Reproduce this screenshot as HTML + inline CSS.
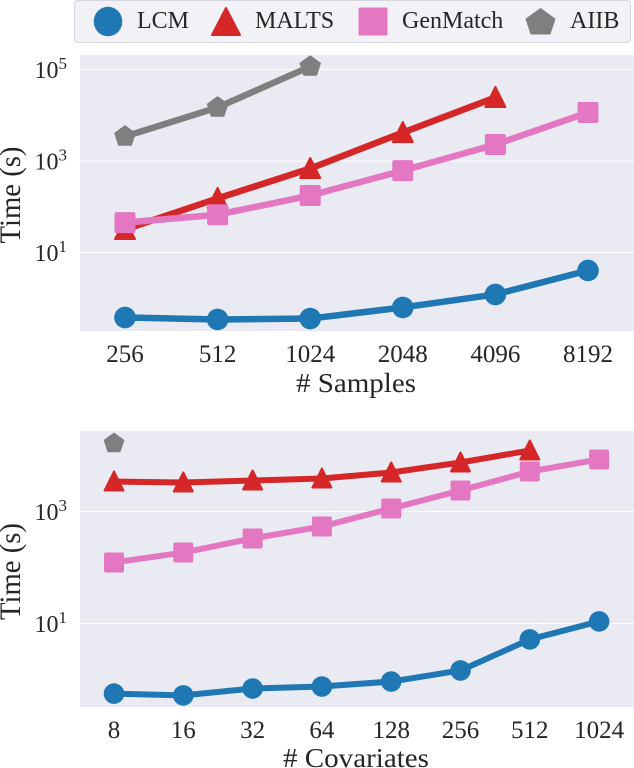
<!DOCTYPE html>
<html>
<head>
<meta charset="utf-8">
<title>Runtime comparison chart</title>
<style>
html,body{margin:0;padding:0;background:#fff;}
svg{display:block;}
text{font-family:"Liberation Serif",serif;fill:#262626;}
</style>
</head>
<body>
<svg id="chart" xmlns="http://www.w3.org/2000/svg" width="634" height="768" viewBox="0 0 634 768">
<g id="plots"></g>
<g id="legend">
<rect x="74.5" y="0.5" width="556" height="42" rx="3" fill="#f1f1f6" stroke="#d6d6de" stroke-width="1"/>
<ellipse cx="108" cy="21.5" rx="14.3" ry="14.8" fill="#1f77b4"/>
<text x="137" y="28" font-size="24">LCM</text>
<polygon points="226,8 240,35 212,35" fill="#d62728" stroke="#d62728" stroke-width="2" stroke-linejoin="round"/>
<text x="255" y="28" font-size="24">MALTS</text>
<rect x="358.5" y="7.5" width="29" height="28" rx="1.5" fill="#e377c2"/>
<text x="402" y="28" font-size="24">GenMatch</text>
<polygon points="540.5,8.5 555,19 550,34 531,34 526,19" fill="#7f7f7f" stroke="#7f7f7f" stroke-width="1" stroke-linejoin="round"/>
<text x="570" y="28" font-size="24">AIIB</text>
</g>
</svg>
<script>
var topCategories = ["256", "512", "1024", "2048", "4096", "8192"];
var topLcm = [0.38, 0.344, 0.36, 0.63, 1.21, 4.05];
var topMalts = [31.8, 152, 686, 4180, 24500];
var topGenMatch = [45, 67, 176, 617, 2290, 11500];
var topAiib = [3430, 14800, 116000];
var topTickExponents = [1, 3, 5];

var bottomCategories = ["8", "16", "32", "64", "128", "256", "512", "1024"];
var bottomLcm = [0.56, 0.52, 0.69, 0.75, 0.92, 1.45, 5.2, 10.9];
var bottomMalts = [3430, 3300, 3580, 3880, 4970, 7500, 12300];
var bottomGenMatch = [123, 185, 330, 540, 1130, 2370, 5180, 8500];
var bottomAiib = [16400];
var bottomTickExponents = [1, 3];

var NS = "http://www.w3.org/2000/svg";
var root = document.getElementById("plots");

function make(tag, attrs, parent) {
  var el = document.createElementNS(NS, tag);
  for (var k in attrs) { el.setAttribute(k, attrs[k]); }
  parent.appendChild(el);
  return el;
}

function drawMarker(kind, cx, cy, size, color, parent, name) {
  var r = size / 2;
  var el;
  if (kind === "circle") {
    el = make("ellipse", {cx: cx, cy: cy, rx: r + 0.3, ry: r + 0.3, fill: color}, parent);
  } else if (kind === "square") {
    el = make("rect", {x: cx - r + 0.5, y: cy - r + 0.5, width: size - 1, height: size - 1, rx: 1.5, fill: color, stroke: color, "stroke-width": 1}, parent);
  } else if (kind === "triangle") {
    var tri = (cx) + "," + (cy - r) + " " + (cx + r - 0.5) + "," + (cy + r - 1) + " " + (cx - r + 0.5) + "," + (cy + r - 1);
    el = make("polygon", {points: tri, fill: color, stroke: color, "stroke-width": 2, "stroke-linejoin": "round"}, parent);
  } else {
    var pts = [];
    for (var i = 0; i < 5; i++) {
      var a = -Math.PI / 2 + i * 2 * Math.PI / 5;
      pts.push((cx + r * Math.cos(a)) + "," + (cy + r * Math.sin(a)));
    }
    el = make("polygon", {points: pts.join(" "), fill: color, stroke: color, "stroke-width": 1.5, "stroke-linejoin": "round"}, parent);
  }
  
  
}

function drawSeries(values, name, kind, color, xScale, yScale, width, size, parent) {
  var g = make("g", {}, parent);
  
  
  if (values.length > 1) {
    var pts = values.map(function (v, i) { return xScale(i) + "," + yScale(v); }).join(" ");
    var line = make("polyline", {points: pts, fill: "none", stroke: color, "stroke-width": width, "stroke-linejoin": "round", "stroke-linecap": "round"}, g);
    
    
  }
  values.forEach(function (v, i) {
    drawMarker(kind, xScale(i), yScale(v), size, color, g, name + '-point');
  });
}

function drawPanel(cfg) {
  var g = make("g", {}, root);
  
  

  var bg = make("rect", {x: 80, y: cfg.top, width: 554, height: cfg.bottom - cfg.top, fill: "#eaeaf2"}, g);
  
  

  cfg.ticks.forEach(function (exp) {
    var y = cfg.y(Math.pow(10, exp));
    var grid = make("line", {x1: 80, x2: 634, y1: y, y2: y, stroke: "#fff", "stroke-width": 1}, g);
    
    
    var t = make("text", {x: 34.5, y: y + 8.7, "font-size": 24}, g);
    
    
    var base = make("tspan", {}, t);
    base.textContent = "10";
    var sup = make("tspan", {dy: -9, "font-size": 17}, t);
    sup.textContent = String(exp);
  });

  cfg.categories.forEach(function (c, i) {
    var t = make("text", {x: cfg.x(i), y: cfg.bottom + 31, "font-size": 25, "text-anchor": "middle"}, g);
    
    
    t.textContent = c;
  });

  var xt = make("text", {x: 356, y: cfg.xTitleY, "font-size": 27.5, "text-anchor": "middle", textLength: cfg.xTitleLen, lengthAdjust: "spacingAndGlyphs"}, g);
  
  
  xt.textContent = cfg.xTitle;

  var yt = make("text", {x: 0, y: 0, "font-size": 30, "text-anchor": "middle", textLength: 97, lengthAdjust: "spacingAndGlyphs", transform: "translate(20," + cfg.yTitleY + ") rotate(-90)"}, g);
  
  
  yt.textContent = "Time (s)";

  drawSeries(cfg.aiib, cfg.prefix + '-aiib', "pentagon", "#7f7f7f", cfg.x, cfg.y, cfg.lw, cfg.ms, g);
  drawSeries(cfg.malts, cfg.prefix + '-malts', "triangle", "#d62728", cfg.x, cfg.y, cfg.lw, cfg.ms, g);
  drawSeries(cfg.gen, cfg.prefix + '-genmatch', "square", "#e377c2", cfg.x, cfg.y, cfg.lw, cfg.ms, g);
  drawSeries(cfg.lcm, cfg.prefix + '-lcm', "circle", "#1f77b4", cfg.x, cfg.y, cfg.lw, cfg.ms, g);
}

function topX(i) { return 125 + i * 92.6; }
function topY(v) { return 252.5 - (Math.log10(v) - 1) * 45.75; }
function bottomX(i) { return 114 + i * 69.3; }
function bottomY(v) { return 623.5 - (Math.log10(v) - 1) * 56; }

drawPanel({
  name: "samples-panel", prefix: "samples", top: 55, bottom: 331,
  x: topX, y: topY, ticks: topTickExponents, categories: topCategories,
  lcm: topLcm, malts: topMalts, gen: topGenMatch, aiib: topAiib,
  xTitle: "# Samples", xTitleY: 392, xTitleLen: 120, yTitleY: 195, lw: 6.5, ms: 21
});
drawPanel({
  name: "covariates-panel", prefix: "covariates", top: 431, bottom: 707,
  x: bottomX, y: bottomY, ticks: bottomTickExponents, categories: bottomCategories,
  lcm: bottomLcm, malts: bottomMalts, gen: bottomGenMatch, aiib: bottomAiib,
  xTitle: "# Covariates", xTitleY: 767, xTitleLen: 146, yTitleY: 571.5, lw: 6, ms: 20
});
</script>
</body>
</html>
